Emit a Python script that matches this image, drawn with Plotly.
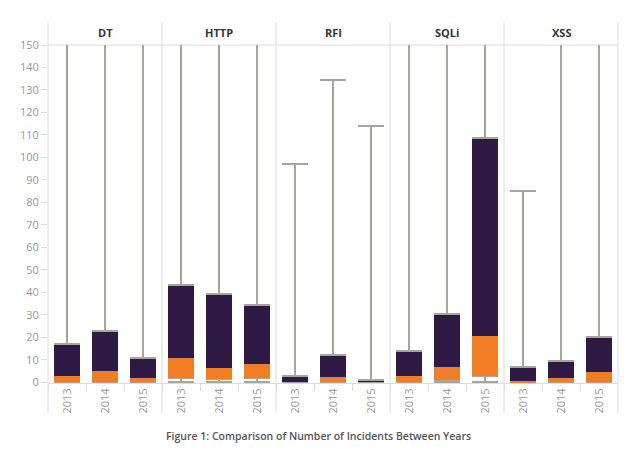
import plotly.graph_objects as go
from plotly.subplots import make_subplots

types = ["DT", "HTTP", "RFI", "SQLi", "XSS"]
years = ["2013", "2014", "2015"]

# box statistics per attack type (values per year 2013, 2014, 2015)
mins = {"DT": [0, 0, 0], "HTTP": [0, 0, 0], "RFI": [0, 0, 0], "SQLi": [0, 0, 0], "XSS": [0, 0, 0]}
q1s = {"DT": [0, 0, 0], "HTTP": [2, 1.3, 1.8], "RFI": [0, 0, 0], "SQLi": [0, 0.9, 2.8], "XSS": [0, 0, 0]}
medians = {"DT": [3, 5.2, 1.8], "HTTP": [10.6, 6.4, 8.1], "RFI": [0, 2.2, 0], "SQLi": [2.7, 6.8, 20.6], "XSS": [0.5, 2.1, 4.6]}
q3s = {"DT": [17, 23, 10.8], "HTTP": [43.5, 39.2, 34.5], "RFI": [2.8, 12.3, 1], "SQLi": [13.9, 30.6, 108.7], "XSS": [7, 9.6, 20.3]}
maxs = {"DT": [175, 175, 175], "HTTP": [175, 175, 175], "RFI": [97.2, 134.5, 113.9], "SQLi": [175, 175, 175], "XSS": [85, 175, 175]}

DARK = "#2e1a45"
ORANGE = "#f17e24"
WHISK = "#a6a59e"
GRID = "#dcdcdc"

fig = make_subplots(rows=1, cols=5, shared_yaxes=True, horizontal_spacing=0)

for i, t in enumerate(types):
    col = i + 1
    q1 = q1s[t]; med = medians[t]; q3 = q3s[t]; mn = mins[t]; mx = maxs[t]
    # invisible base from 0 to Q1, carrying the lower whisker
    fig.add_trace(go.Bar(
        x=years, y=q1, marker=dict(color="rgba(0,0,0,0)"),
        error_y=dict(type="data", symmetric=False,
                     array=[0, 0, 0], arrayminus=[a - b for a, b in zip(q1, mn)],
                     color=WHISK, thickness=2, width=13),
        showlegend=False, hoverinfo="skip"), row=1, col=col)
    # Q1 -> median (orange)
    fig.add_trace(go.Bar(
        x=years, y=[m - a for m, a in zip(med, q1)], marker=dict(color=ORANGE, line=dict(width=0)),
        showlegend=False), row=1, col=col)
    # median -> Q3 (dark), carrying the upper whisker
    fig.add_trace(go.Bar(
        x=years, y=[c - m for c, m in zip(q3, med)], marker=dict(color=DARK, line=dict(width=0)),
        error_y=dict(type="data", symmetric=False,
                     array=[x - c for x, c in zip(mx, q3)], arrayminus=[0, 0, 0],
                     color=WHISK, thickness=2, width=13),
        showlegend=False), row=1, col=col)

# The page body has an 8px margin, so the figure's margins are reduced to compensate.
fig.update_layout(
    barmode="stack", bargap=0.32,
    width=640, height=457,
    margin=dict(l=40, r=30, t=37, b=82),
    paper_bgcolor="white", plot_bgcolor="white",
    font=dict(family="Open Sans, sans-serif", color="#999999", size=11),
)

for i in range(1, 6):
    fig.update_xaxes(row=1, col=i, type="category", tickangle=-90,
                     tickfont=dict(size=11, color="#999999"),
                     ticks="outside", ticklen=7, tickcolor=GRID, tickson="boundaries",
                     showgrid=False, showline=True, linecolor=GRID, linewidth=1,
                     zeroline=False)

fig.update_yaxes(row=1, col=1, range=[-0.3, 150], dtick=10, tick0=0,
                 ticks="outside", ticklen=6, tickcolor=GRID,
                 tickfont=dict(size=11, color="#999999"),
                 showgrid=False, zeroline=False, showline=False)
for i in range(2, 6):
    fig.update_yaxes(row=1, col=i, range=[-0.3, 150], showgrid=False, zeroline=False, showline=False)

shapes = []
for i in range(6):
    shapes.append(dict(type="line", xref="paper", yref="paper", x0=i / 5, x1=i / 5,
                       y0=-0.09, y1=1.068, line=dict(color=GRID, width=1), layer="below"))
shapes.append(dict(type="line", xref="paper", yref="paper", x0=0, x1=1, y0=1, y1=1,
                   line=dict(color=GRID, width=1), layer="below"))
fig.update_layout(shapes=shapes)

annotations = []
for i, t in enumerate(types):
    annotations.append(dict(text="<b>%s</b>" % t, xref="paper", yref="paper",
                            x=(i + 0.5) / 5, y=1.038, showarrow=False,
                            font=dict(size=11, color="#333333", family="Open Sans, sans-serif"),
                            xanchor="center", yanchor="middle"))
annotations.append(dict(text="Figure 1: Comparison of Number of Incidents Between Years",
                        xref="paper", yref="paper", x=0.474, y=-0.158, showarrow=False,
                        font=dict(size=10.5, color="#555555", family="Open Sans, sans-serif", weight=600),
                        xanchor="center", yanchor="middle"))
fig.update_layout(annotations=annotations)

fig.write_html("out.html")
